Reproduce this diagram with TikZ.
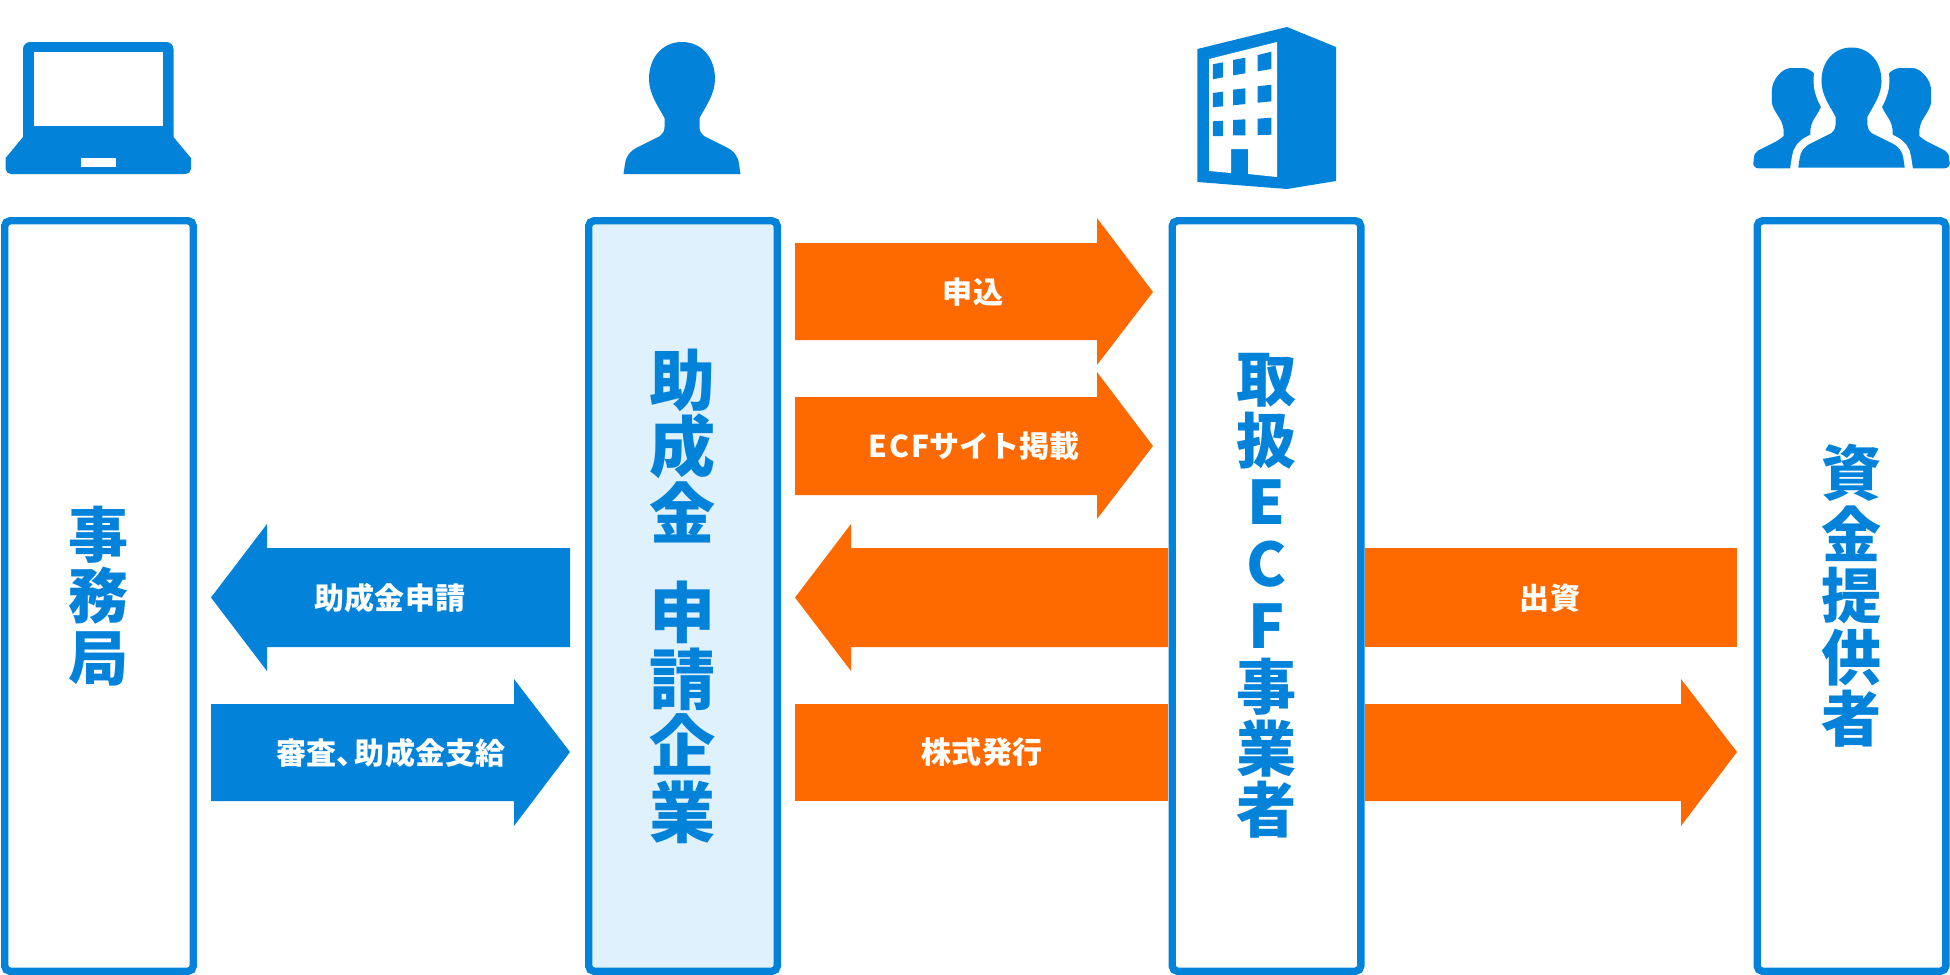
\documentclass[tikz,border=0pt]{standalone}
\usepackage{fontspec}
\newfontfamily\jpfont{Noto Sans CJK JP}
\newfontfamily\jpblack{Noto Sans CJK JP Black}
\definecolor{iconblue}{RGB}{3,130,218}
\definecolor{paleblue}{RGB}{223,241,253}
\definecolor{arrorange}{RGB}{255,106,0}
\tikzset{
    colbox/.style={draw=iconblue, line width=2.1pt, rounded corners=1.5pt, minimum width=1.885cm, minimum height=7.5cm, inner sep=0pt, align=center, text=iconblue, font=\jpfont\bfseries\fontsize{17.1pt}{17.5pt}\selectfont},
    arrowlabel/.style={text=white, inner sep=0pt, font=\jpfont\bfseries\fontsize{8.54pt}{10pt}\selectfont},
    person/.pic={
        \path[pic actions] (0,132) -- (-58.5,132) -- (-57,122)
            .. controls (-56,114) and (-52,109) .. (-44,105) -- (-22,94)
            .. controls (-19,91) and (-17.5,89) .. (-17.5,85) -- (-17.5,76)
            .. controls (-24,64) and (-33,52) .. (-33,37)
            .. controls (-33,16) and (-20,0) .. (0,0)
            .. controls (20,0) and (33,16) .. (33,37)
            .. controls (33,52) and (24,64) .. (17.5,76) -- (17.5,85)
            .. controls (17.5,89) and (19,91) .. (22,94) -- (44,105)
            .. controls (52,109) and (56,114) .. (57,122) -- (58.5,132) -- cycle;
    }
}
\begin{document}
\begin{tikzpicture}[x=0.01cm, y=-0.01cm]
    \useasboundingbox (0,0) rectangle (1950,975);

    % --- columnas ---
    \node[colbox] (secretariat) at (99,596) {事\\務\\局};
    \node[colbox, fill=paleblue, font=\jpblack\fontsize{18.8pt}{18.9pt}\selectfont] (applicant) at (683,596) {助\\成\\金\\[9.4pt]申\\請\\企\\業};
    \node[colbox] (operator) at (1266.5,596) {取\\扱\\E\\C\\F\\事\\業\\者};
    \node[colbox] (investors) at (1851.5,596) {資\\金\\提\\供\\者};

    % laptop
    \fill[iconblue] (5.6,158) -- (23,137) [rounded corners=2pt] -- (23,42) -- (173.5,42) [sharp corners] -- (173.5,137) -- (191,158) [rounded corners=1.5pt] -- (191,174) -- (5.6,174) [sharp corners] -- cycle;
    \fill[white] (34,52) rectangle (163,126);
    \fill[white] (81,158) rectangle (116,167);

    % person
    \pic[fill=iconblue] at (682,42) {person};

    % building
    \fill[iconblue] (1197.4,49) -- (1287,27) -- (1336,47) -- (1336,181) -- (1287,189) -- (1197.4,182) -- cycle;
    \fill[white] (1209,59) -- (1277,42) -- (1277,177) -- (1248,174) -- (1248,149) -- (1231,149) -- (1231,173) -- (1209,171) -- cycle;
    \foreach \xa/\xb/\ya/\yb/\yc/\yd in {
        1212.8/1223/64.3/62.3/77.3/79.3, 1233/1245.4/60/57.7/73.3/75.3, 1257.7/1271.4/55/51.7/69/71.3,
        1212.8/1223/93/91.7/106.3/107.3, 1233/1245.4/89.7/88.3/104/105.3, 1257.7/1271.4/86.3/84.7/101.3/102.7,
        1212.8/1223/121.3/120.7/136/136, 1233/1245.4/120/119.3/135.3/135.3, 1257.7/1271.4/118.7/117.7/134.7/135}
        \fill[iconblue] (\xa,\ya) -- (\xb,\yb) -- (\xb,\yc) -- (\xa,\yd) -- cycle;

    % people
    \pic[fill=iconblue, scale=0.76, rounded corners=1.7pt] at (1797,68) {person};
    \pic[fill=iconblue, scale=0.76, rounded corners=1.7pt] at (1906,68) {person};
    \pic[fill=iconblue, draw=white, line width=4.5pt, scale=0.91] at (1851.5,47.5) {person};
    \pic[fill=iconblue, scale=0.91] at (1851.5,47.5) {person};

    % --- flechas azules ---
    \fill[iconblue] (570,548) -- (267,548) -- (267,524) -- (211,597.5) -- (267,671) -- (267,647) -- (570,647) -- cycle;
    \fill[iconblue] (211,704) -- (514,704) -- (514,679) -- (570,752) -- (514,826) -- (514,801) -- (211,801) -- cycle;

    % --- flechas naranjas ---
    \fill[arrorange] (795,243) -- (1097,243) -- (1097,218) -- (1153,292) -- (1097,365) -- (1097,340) -- (795,340) -- cycle;
    \fill[arrorange] (795,397) -- (1097,397) -- (1097,372) -- (1153,446) -- (1097,519) -- (1097,495) -- (795,495) -- cycle;
    \fill[arrorange] (1168,548) -- (851,548) -- (851,524) -- (795,597.5) -- (851,671) -- (851,647) -- (1168,647) -- cycle;
    \fill[arrorange] (795,704) rectangle (1168,801);
    \fill[arrorange] (1365,548) rectangle (1737,647);
    \fill[arrorange] (1365,704) -- (1681,704) -- (1681,679) -- (1737,752) -- (1681,826) -- (1681,801) -- (1365,801) -- cycle;

    % --- etiquetas ---
    \node[arrowlabel] (apply) at (390,598) {助成金申請};
    \node[arrowlabel] (review) at (391,753) {審査、\kern-0.4em 助成金支給};
    \node[arrowlabel] (subscribe) at (973,292) {申込};
    \node[arrowlabel] (listing) at (974,446) {E\kern.06em C\kern.06em Fサイト掲載};
    \node[arrowlabel] (shares) at (982,752) {株式発行};
    \node[arrowlabel] (funding) at (1550,598) {出資};
\end{tikzpicture}
\end{document}
